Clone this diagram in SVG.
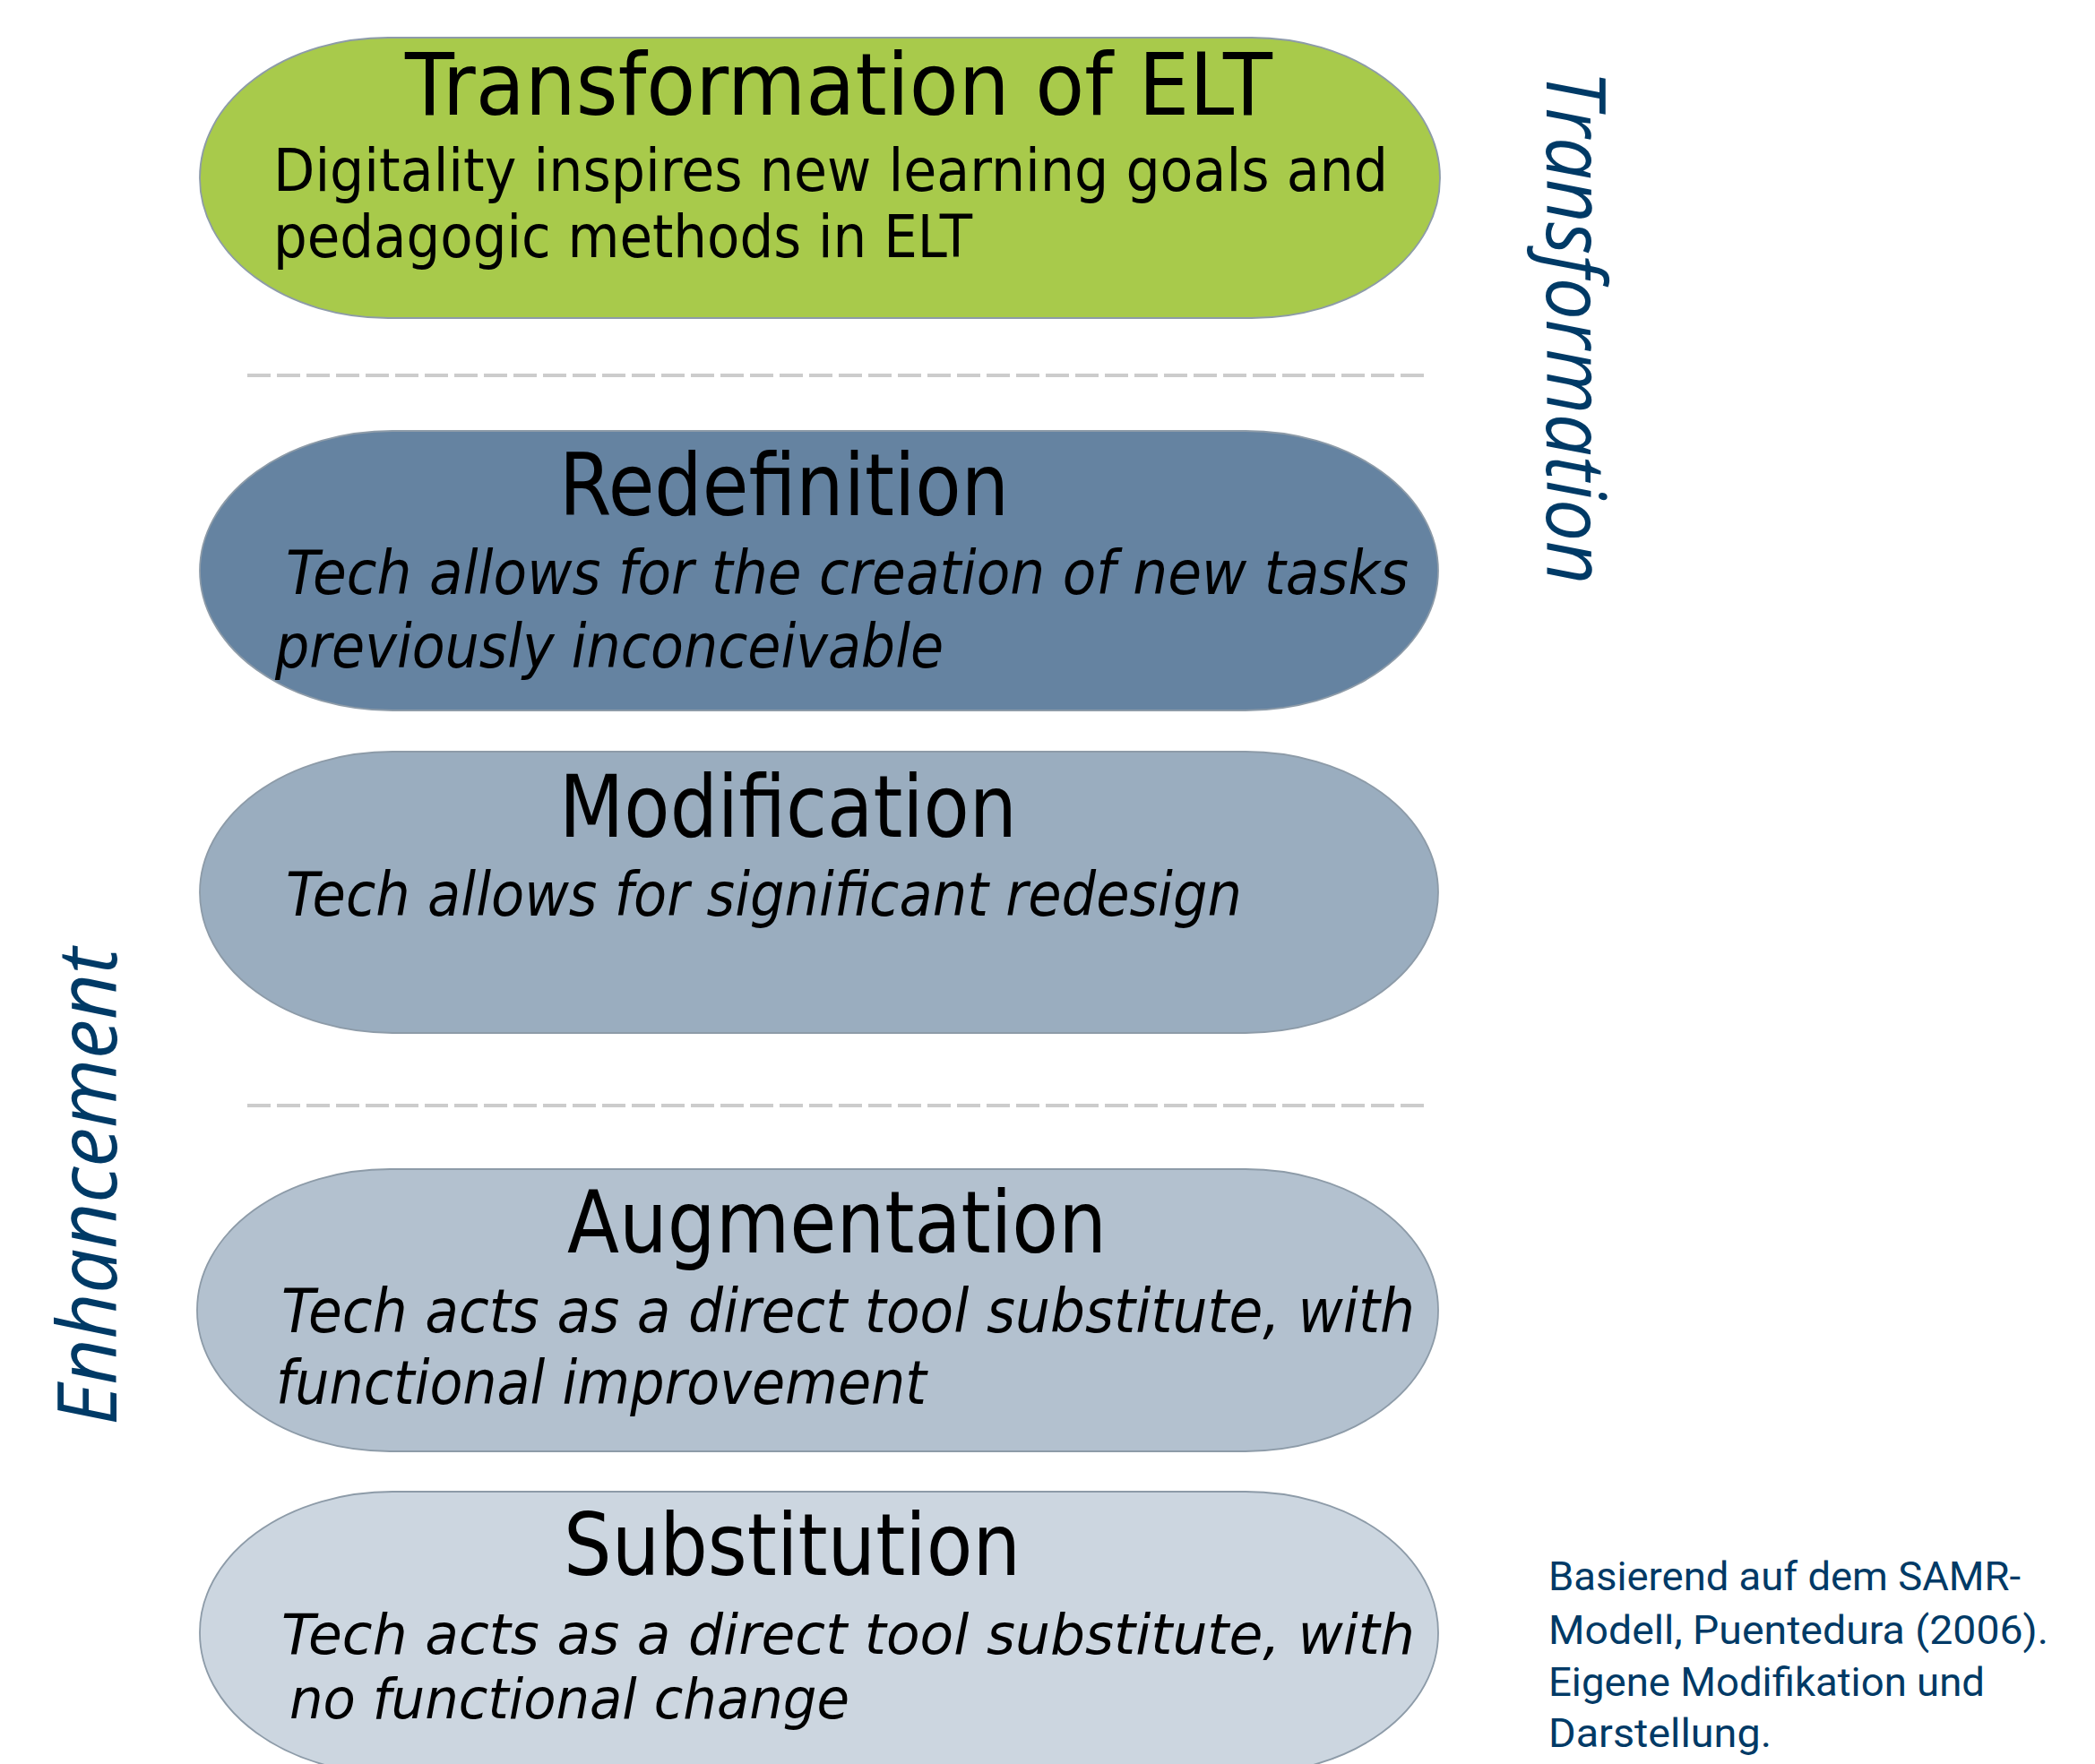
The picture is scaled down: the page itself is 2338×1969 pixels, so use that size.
<svg xmlns="http://www.w3.org/2000/svg" width="2338" height="1969" viewBox="0 0 2338 1969">
  <style>
    .pill { stroke: #8d9ba8; stroke-width: 1.8; }
    .title { font-family: "DejaVu Sans", "Liberation Sans", sans-serif; font-size: 96px; fill: #000; }
    .body { font-family: "DejaVu Sans", "Liberation Sans", sans-serif; font-size: 66px; fill: #000; }
    .desc { font-family: "DejaVu Sans", "Liberation Sans", sans-serif; font-size: 68px; font-style: italic; fill: #000; }
    .desc.tight { font-size: 62px; }
    .side { font-family: "Open Sans", "Liberation Sans", sans-serif; font-size: 92px; font-style: italic; fill: #003a66; }
    .note { font-family: Roboto, "Liberation Sans", sans-serif; font-size: 45px; fill: #003a66; }
    .divider { stroke: #cccccc; stroke-width: 4; stroke-dasharray: 26 7; fill: none; }
  </style>

  <rect width="2338" height="1969" fill="#ffffff"/>

  <!-- level separators -->
  <g id="connectors">
    <line class="divider" x1="276" y1="419" x2="1596" y2="419"/>
    <line class="divider" x1="276" y1="1234" x2="1596" y2="1234"/>
  </g>

  <g id="node-transformation">
    <rect class="pill" x="223" y="42" width="1384" height="313" rx="210" ry="156" fill="#a8ca4b" stroke="#95b345"/>
    <text class="title" x="452" y="128" textLength="968" lengthAdjust="spacingAndGlyphs">Transformation of ELT</text>
    <text class="body" x="305" y="213" textLength="1244" lengthAdjust="spacingAndGlyphs">Digitality inspires new learning goals and</text>
    <text class="body" x="305" y="287" textLength="780" lengthAdjust="spacingAndGlyphs">pedagogic methods in ELT</text>
  </g>

  <g id="node-redefinition">
    <rect class="pill" x="223" y="481" width="1382" height="312" rx="215" ry="156" fill="#6583a1"/>
    <text class="title" x="624" y="575" textLength="502" lengthAdjust="spacingAndGlyphs">Redefinition</text>
    <text class="desc" x="319" y="663" textLength="1253" lengthAdjust="spacingAndGlyphs">Tech allows for the creation of new tasks</text>
    <text class="desc" x="307" y="745" textLength="746" lengthAdjust="spacingAndGlyphs">previously inconceivable</text>
  </g>

  <g id="node-modification">
    <rect class="pill" x="223" y="839" width="1382" height="314" rx="215" ry="157" fill="#9aadbf"/>
    <text class="title" x="624" y="934" textLength="511" lengthAdjust="spacingAndGlyphs">Modification</text>
    <text class="desc" x="319" y="1022" textLength="1067" lengthAdjust="spacingAndGlyphs">Tech allows for significant redesign</text>
  </g>

  <g id="node-augmentation">
    <rect class="pill" x="220" y="1305" width="1385" height="315" rx="215" ry="157" fill="#b3c1cf"/>
    <text class="title" x="633" y="1398" textLength="602" lengthAdjust="spacingAndGlyphs">Augmentation</text>
    <text class="desc" x="314" y="1487" textLength="1265" lengthAdjust="spacingAndGlyphs">Tech acts as a direct tool substitute, with</text>
    <text class="desc" x="308" y="1567" textLength="726" lengthAdjust="spacingAndGlyphs">functional improvement</text>
  </g>

  <g id="node-substitution">
    <rect class="pill" x="223" y="1665" width="1382" height="315" rx="215" ry="157" fill="#ccd6e0"/>
    <text class="title" x="629" y="1758" textLength="510" lengthAdjust="spacingAndGlyphs">Substitution</text>
    <text class="desc tight" x="314" y="1846" textLength="1265" lengthAdjust="spacingAndGlyphs">Tech acts as a direct tool substitute, with</text>
    <text class="desc tight" x="323" y="1918" textLength="625" lengthAdjust="spacingAndGlyphs">no functional change</text>
  </g>

  <!-- phase labels -->
  <g id="label-transformation">
    <text class="side" transform="translate(1726,79) rotate(90)" textLength="573" lengthAdjust="spacingAndGlyphs">Transformation</text>
  </g>
  <g id="label-enhancement">
    <text class="side" transform="translate(130,1591) rotate(-90)" textLength="533" lengthAdjust="spacingAndGlyphs">Enhancement</text>
  </g>

  <!-- source note -->
  <g id="source-note">
    <text class="note" x="1728" y="1775" textLength="527" lengthAdjust="spacingAndGlyphs">Basierend auf dem SAMR-</text>
    <text class="note" x="1728" y="1835" textLength="558" lengthAdjust="spacingAndGlyphs">Modell, Puentedura (2006).</text>
    <text class="note" x="1728" y="1893" textLength="487" lengthAdjust="spacingAndGlyphs">Eigene Modifikation und</text>
    <text class="note" x="1728" y="1950" textLength="249" lengthAdjust="spacingAndGlyphs">Darstellung.</text>
  </g>
</svg>
